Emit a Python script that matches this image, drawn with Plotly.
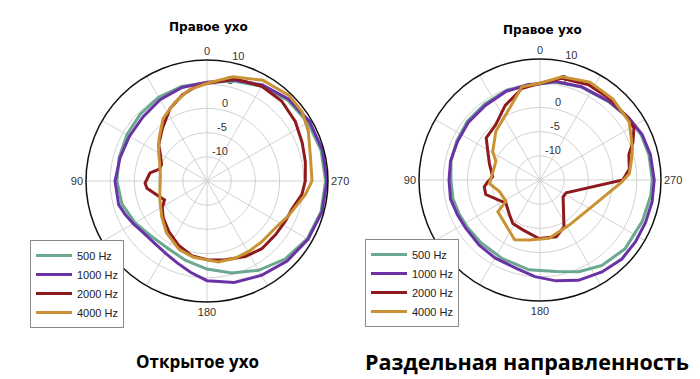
import plotly.graph_objects as go

# ---------------- data (dB vs angle in degrees) ----------------
freq_names = ["500 Hz", "1000 Hz", "2000 Hz", "4000 Hz"]
colors = ["#6aa88f", "#6a32a5", "#8f1a1e", "#c99235"]

angle_ticks = list(range(0, 360, 30))
angle_labels = ["0", "", "", "90", "", "", "180", "", "", "270", "", ""]
r_ticks = [-10, -5, 0, 5, 10]
r_tick_labels = ["-10", "-5", "0", "5", "10"]
r_range = [-15, 10]

# Open ear (left)
open_500_theta = [0, 15, 30, 45, 60, 75, 90, 105, 120, 135, 150, 165, 180, 195, 210, 225, 240, 255, 270, 285, 300, 315, 330, 345, 360]
open_500_r = [5.3, 5.2, 5.0, 4.5, 4.1, 3.8, 3.6, 3.2, 2.2, 1.2, 1.1, 2.0, 3.2, 4.7, 6.3, 7.8, 8.9, 9.4, 9.5, 9.4, 9.1, 8.6, 7.6, 6.4, 5.3]

open_1000_theta = [0, 15, 30, 45, 60, 75, 90, 105, 112, 120, 130, 140, 150, 160, 170, 180, 195, 210, 225, 240, 255, 270, 285, 300, 315, 330, 345, 360]
open_1000_r = [5.4, 5.0, 4.4, 3.7, 3.5, 3.6, 4.0, 3.9, 3.3, 2.6, 1.9, 1.8, 2.2, 3.0, 4.2, 5.6, 6.7, 7.5, 8.4, 9.1, 9.6, 9.8, 9.7, 9.5, 8.9, 7.9, 6.6, 5.4]

open_2000_theta = [0, 7, 16, 27, 40, 53, 61, 70, 76, 82, 92, 97, 108, 114, 121, 130, 143, 156, 169, 181, 193, 207, 219, 232, 243, 252, 262, 270, 281, 292, 304, 317, 330, 344, 360]
open_2000_r = [5.2, 4.6, 3.5, 1.8, -0.7, -2.5, -4.0, -5.0, -4.9, -3.1, -2.2, -2.5, -4.6, -5.4, -4.2, -3.2, -1.9, -0.5, 0.8, 1.3, 1.7, 2.5, 3.0, 3.0, 3.2, 3.5, 4.8, 5.3, 5.7, 6.2, 7.0, 7.6, 7.6, 6.9, 5.2]

open_4000_theta = [0, 11, 22, 35, 48, 58, 70, 83, 93, 103, 112, 128, 142, 158, 170, 180, 188, 200, 211, 222, 235, 247, 262, 270, 284, 296, 306, 316, 331, 346, 360]
open_4000_r = [5.2, 4.2, 2.6, 0.8, -1.7, -3.2, -4.6, -5.3, -5.3, -5.0, -4.5, -3.1, -1.4, 0.3, 1.0, 1.3, 1.9, 2.0, 1.9, 1.9, 2.1, 3.3, 5.5, 6.7, 7.0, 8.3, 9.3, 9.5, 8.8, 7.2, 5.2]

# Separate directionality (right)
sep_500_theta = [0, 20, 36, 51, 65, 78, 90, 102, 113, 123, 137, 154, 173, 190, 203, 216, 231, 248, 262, 270, 283, 294, 305, 319, 336, 351, 360]
sep_500_r = [4.9, 4.8, 4.4, 4.3, 4.0, 3.8, 3.4, 3.4, 3.1, 2.9, 2.8, 3.0, 3.7, 4.2, 5.6, 6.8, 7.6, 7.8, 8.1, 8.2, 8.1, 7.9, 7.3, 6.5, 6.0, 5.5, 4.9]

sep_1000_theta = [0, 7, 21, 36, 51, 65, 78, 90, 102, 113, 123, 137, 150, 165, 177, 189, 201, 214, 226, 237, 248, 259, 270, 283, 294, 305, 319, 336, 351, 360]
sep_1000_r = [4.9, 4.9, 4.6, 4.1, 4.0, 3.8, 3.9, 3.8, 3.9, 3.5, 3.3, 3.4, 3.6, 3.9, 5.0, 6.1, 7.2, 7.9, 8.5, 8.5, 8.5, 8.6, 8.6, 8.4, 8.1, 7.4, 6.6, 6.1, 5.6, 4.9]

sep_2000_theta = [0, 11, 25, 39, 52, 60, 72, 86, 92, 97, 105, 124, 137, 148, 161, 179, 196, 207, 234, 244, 270, 277, 286, 292, 299, 307, 320, 333, 348, 360]
sep_2000_r = [5.0, 4.3, 2.0, -0.4, -0.9, -2.5, -4.0, -5.2, -4.2, -3.4, -3.4, -6.5, -5.6, -4.4, -4.1, -2.9, -2.8, -4.1, -9.1, -9.0, 2.1, 3.6, 4.1, 5.7, 7.2, 7.2, 7.1, 7.1, 6.5, 5.0]

sep_4000_theta = [0, 11, 23, 42, 59, 67, 82, 94, 106, 122, 127, 157, 170, 189, 213, 240, 268, 274, 282, 289, 303, 318, 333, 348, 360]
sep_4000_r = [5.0, 4.6, 1.1, -1.4, -3.6, -5.1, -5.1, -4.5, -6.3, -6.7, -4.1, -1.6, -2.4, -2.8, -3.9, -3.2, 1.7, 3.5, 4.3, 5.2, 7.0, 7.5, 7.7, 6.8, 5.0]

titles = ["Правое ухо", "Правое ухо"]
captions = ["Открытое ухо", "Раздельная направленность"]

open_data = [(open_500_theta, open_500_r), (open_1000_theta, open_1000_r),
             (open_2000_theta, open_2000_r), (open_4000_theta, open_4000_r)]
sep_data = [(sep_500_theta, sep_500_r), (sep_1000_theta, sep_1000_r),
            (sep_2000_theta, sep_2000_r), (sep_4000_theta, sep_4000_r)]

# ---------------- figure ----------------
W, H = 700, 379
OFF = 8  # page body margin in the browser


def px(x):
    return (x - OFF) / W


def py(y):
    return 1 - (y - OFF) / H


fig = go.Figure()
label_angle = 348
tick_font = dict(family="Liberation Sans, Arial, sans-serif", size=11, color="#333333")

for subplot, legend, data in [("polar", "legend", open_data), ("polar2", "legend2", sep_data)]:
    # radial tick labels, drawn under the curves
    fig.add_trace(go.Scatterpolar(
        r=r_ticks, theta=[label_angle] * len(r_ticks), mode="text",
        text=r_tick_labels, textposition="top right", textfont=tick_font,
        subplot=subplot, showlegend=False, hoverinfo="skip"))
    for name, color, (th, rr) in zip(freq_names, colors, data):
        fig.add_trace(go.Scatterpolar(
            r=rr, theta=th, mode="lines", name=name,
            line=dict(color=color, width=3),
            subplot=subplot, legend=legend, hoverinfo="skip"))


def polar_layout(cx, cy, rad):
    return dict(
        domain=dict(x=[px(cx - rad), px(cx + rad)],
                    y=[py(cy + rad), py(cy - rad)]),
        bgcolor="white",
        angularaxis=dict(rotation=90, direction="counterclockwise",
                         tickmode="array", tickvals=angle_ticks, ticktext=angle_labels,
                         showline=True, linecolor="#111111", linewidth=1.5,
                         gridcolor="#d2d2d2", gridwidth=1, ticks="",
                         tickfont=tick_font),
        radialaxis=dict(range=r_range, tickmode="array", tickvals=r_ticks,
                        showticklabels=False, showline=False,
                        gridcolor="#d2d2d2", gridwidth=1, ticks=""),
    )


legend_common = dict(xanchor="left", yanchor="top", bgcolor="white",
                     bordercolor="#8a8a8a", borderwidth=1,
                     font=dict(family="Liberation Sans, Arial, sans-serif", size=11, color="#222222"),
                     itemwidth=36, tracegroupgap=0)

fig.update_layout(
    width=W, height=H, autosize=False,
    margin=dict(l=0, r=0, t=0, b=0),
    paper_bgcolor="white",
    showlegend=True,
    polar=polar_layout(207, 181, 121),
    polar2=polar_layout(540, 180, 121),
    legend=dict(x=px(30), y=py(240), **legend_common),
    legend2=dict(x=px(365), y=py(239), **legend_common),
    annotations=[
        dict(text="<b>%s</b>" % titles[0], x=px(208), y=py(27), xref="paper", yref="paper",
             xanchor="center", yanchor="middle", showarrow=False,
             font=dict(family="DejaVu Sans", size=12, color="#000")),
        dict(text="<b>%s</b>" % titles[1], x=px(542), y=py(30), xref="paper", yref="paper",
             xanchor="center", yanchor="middle", showarrow=False,
             font=dict(family="DejaVu Sans", size=12, color="#000")),
        dict(text="<b>%s</b>" % captions[0], x=px(198), y=py(361), xref="paper", yref="paper",
             xanchor="center", yanchor="middle", showarrow=False,
             font=dict(family="Open Sans", size=17, color="#000")),
        dict(text="<b>%s</b>" % captions[1], x=px(527), y=py(361), xref="paper", yref="paper",
             xanchor="center", yanchor="middle", showarrow=False,
             font=dict(family="Open Sans", size=21.5, color="#000")),
    ],
)

fig.write_html("out.html")
